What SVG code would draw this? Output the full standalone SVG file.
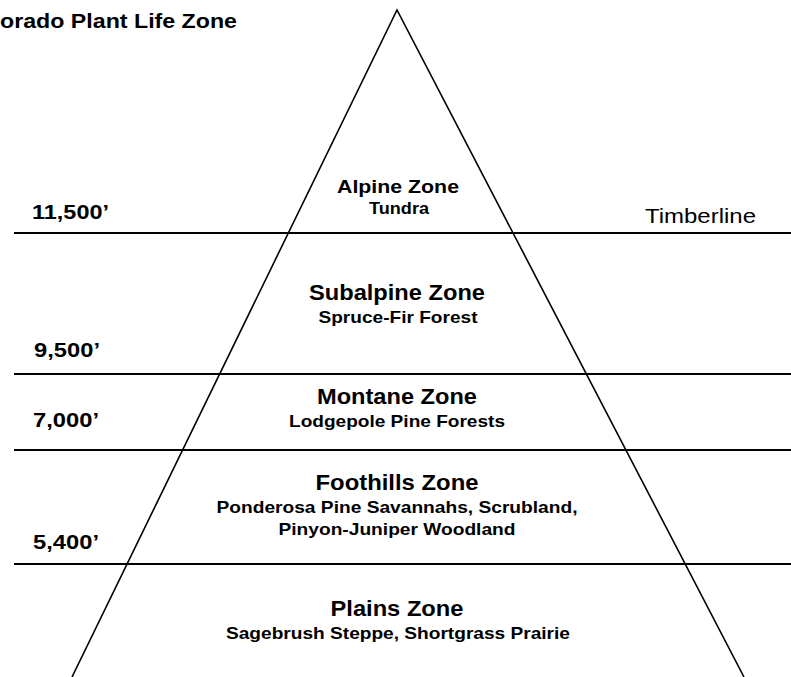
<svg xmlns="http://www.w3.org/2000/svg" width="791" height="677" viewBox="0 0 791 677">
<style>
text{font-family:"Liberation Sans",Arial,sans-serif;fill:#000}
.b{font-weight:bold}
.zn{font-size:22px;font-weight:bold;text-anchor:middle}
.sub{font-size:17px;font-weight:bold;text-anchor:middle}
.el{font-size:21px;font-weight:bold}
.hl{stroke:#000;stroke-width:2;fill:none}
.side{stroke:#000;stroke-width:1.6;fill:none}
</style>
<rect width="791" height="677" fill="#fff"/>
<g id="connectors">
<polyline class="side" points="72,677 397,10 744,677"/>
<line class="hl" x1="14" y1="233" x2="791" y2="233"/>
<line class="hl" x1="14" y1="374" x2="791" y2="374"/>
<line class="hl" x1="14" y1="450" x2="791" y2="450"/>
<line class="hl" x1="14" y1="564" x2="791" y2="564"/>
</g>
<g id="title"><text class="b" x="0" y="28" font-size="20" textLength="237" lengthAdjust="spacingAndGlyphs">orado Plant Life Zone</text></g>
<g id="alpine">
<text class="zn" x="398" y="193" style="font-size:19px" textLength="122" lengthAdjust="spacingAndGlyphs">Alpine Zone</text>
<text class="sub" x="399" y="214" textLength="60" lengthAdjust="spacingAndGlyphs">Tundra</text>
</g>
<g id="subalpine">
<text class="zn" x="397" y="300" textLength="176" lengthAdjust="spacingAndGlyphs">Subalpine Zone</text>
<text class="sub" x="398" y="323" textLength="159" lengthAdjust="spacingAndGlyphs">Spruce-Fir Forest</text>
</g>
<g id="montane">
<text class="zn" x="397" y="404" textLength="160" lengthAdjust="spacingAndGlyphs">Montane Zone</text>
<text class="sub" x="397" y="427" textLength="216" lengthAdjust="spacingAndGlyphs">Lodgepole Pine Forests</text>
</g>
<g id="foothills">
<text class="zn" x="397" y="490" textLength="163" lengthAdjust="spacingAndGlyphs">Foothills Zone</text>
<text class="sub" x="397" y="513" textLength="361" lengthAdjust="spacingAndGlyphs">Ponderosa Pine Savannahs, Scrubland,</text>
<text class="sub" x="397" y="535" textLength="237" lengthAdjust="spacingAndGlyphs">Pinyon-Juniper Woodland</text>
</g>
<g id="plains">
<text class="zn" x="397" y="616" textLength="133" lengthAdjust="spacingAndGlyphs">Plains Zone</text>
<text class="sub" x="398" y="639" textLength="344" lengthAdjust="spacingAndGlyphs">Sagebrush Steppe, Shortgrass Prairie</text>
</g>
<g id="elevations">
<text class="el" x="32" y="219" textLength="77" lengthAdjust="spacingAndGlyphs">11,500’</text>
<text class="el" x="34" y="357" textLength="66" lengthAdjust="spacingAndGlyphs">9,500’</text>
<text class="el" x="33" y="427" textLength="66" lengthAdjust="spacingAndGlyphs">7,000’</text>
<text class="el" x="33" y="549" textLength="66" lengthAdjust="spacingAndGlyphs">5,400’</text>
</g>
<g id="timberline"><text x="645" y="223" font-size="21" textLength="111" lengthAdjust="spacingAndGlyphs">Timberline</text></g>
</svg>
